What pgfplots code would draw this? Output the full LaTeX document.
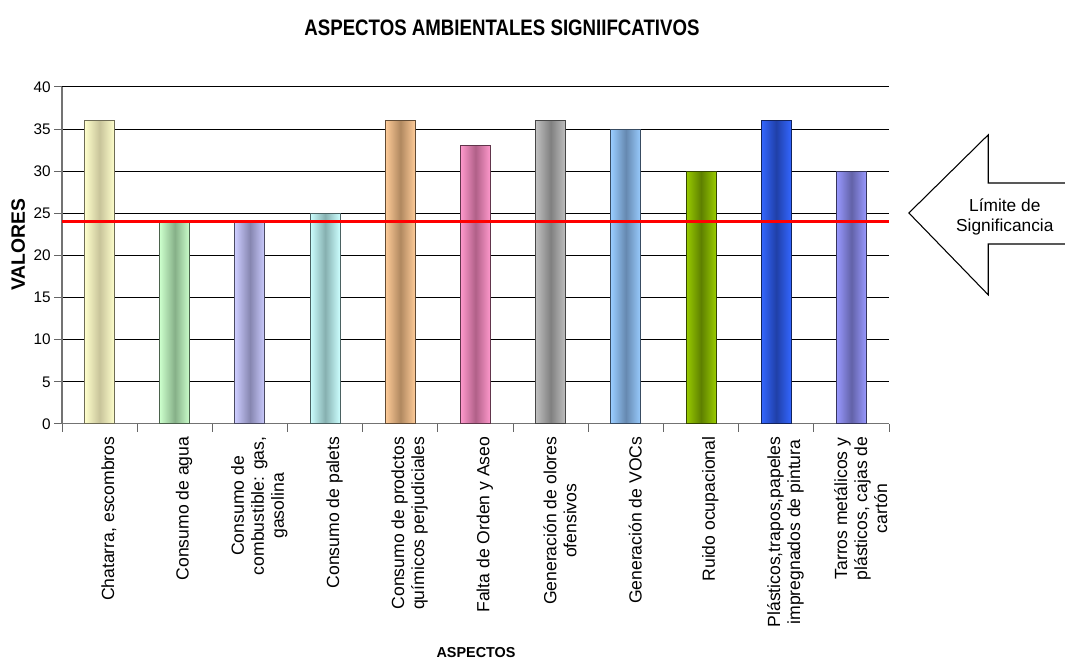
\documentclass[border=0pt]{standalone}
\usepackage{pgfplots}
\pgfplotsset{compat=1.18}
\usepackage{fontspec}
\setmainfont{Liberation Sans}
\definecolor{c1}{HTML}{FFFFCC}\definecolor{d1}{HTML}{C8C49A}
\definecolor{c2}{HTML}{CCFFCC}\definecolor{d2}{HTML}{86B088}
\definecolor{c3}{HTML}{CCCCFF}\definecolor{d3}{HTML}{8686B0}
\definecolor{c4}{HTML}{CCFFFF}\definecolor{d4}{HTML}{86B0B0}
\definecolor{c5}{HTML}{FFCC99}\definecolor{d5}{HTML}{B08860}
\definecolor{c6}{HTML}{FF99CC}\definecolor{d6}{HTML}{B06088}
\definecolor{c7}{HTML}{C0C0C0}\definecolor{d7}{HTML}{808080}
\definecolor{c8}{HTML}{99CCFF}\definecolor{d8}{HTML}{6689B0}
\definecolor{c9}{HTML}{99CC00}\definecolor{d9}{HTML}{5E8000}
\definecolor{c10}{HTML}{3366FF}\definecolor{d10}{HTML}{2040A8}
\definecolor{c11}{HTML}{9999FF}\definecolor{d11}{HTML}{6262A8}
\begin{document}
\begin{tikzpicture}
\begin{axis}[
  width=620.25pt, height=252.75pt, scale only axis,
  xmin=-0.5, xmax=10.5, ymin=0, ymax=40,
  axis x line*=bottom, axis y line*=left,
  axis line style={draw=black!55, line width=0.8pt},
  clip=false,
  ytick={0,5,...,40},
  ymajorgrids, major grid style={black, line width=0.75pt},
  xtick={0,...,10},
  minor xtick={-0.5,0.5,...,10.5},
  major x tick style={draw=none},
  minor x tick style={draw=black!60, line width=0.75pt},
  major y tick style={draw=black!60, line width=0.75pt},
  tick align=outside,
  major tick length=6pt, minor tick length=6pt,
  /pgf/number format/assume math mode=true,
  yticklabel style={font=\fontsize{11.5}{13}\selectfont, xshift=1pt},
  xticklabel style={font=\fontsize{13.2}{15}\selectfont, rotate=90, anchor=east, align=center, yshift=-7pt},
  xticklabels={{Chatarra, escombros},{Consumo de agua},{Consumo de\\combustible: gas,\\gasolina},{Consumo de palets},{Consumo de prodctos\\químicos perjudiciales},{Falta de Orden y Aseo},{Generación de olores\\ofensivos},{Generación de VOCs},{Ruido ocupacional},{Plásticos,trapos,papeles\\impregnados de pintura},{Tarros metálicos y\\plásticos, cajas de\\cartón}},
]
\pgfplotsset{mybar/.style n args={2}{ybar, bar width=22.5pt, bar shift=0pt, draw=#2!55!black, line width=0.75pt, left color=#1, right color=#1, middle color=#2}}
\addplot[mybar={c1}{d1}] coordinates {(0,36)};
\addplot[mybar={c2}{d2}] coordinates {(1,24)};
\addplot[mybar={c3}{d3}] coordinates {(2,24)};
\addplot[mybar={c4}{d4}] coordinates {(3,25)};
\addplot[mybar={c5}{d5}] coordinates {(4,36)};
\addplot[mybar={c6}{d6}] coordinates {(5,33)};
\addplot[mybar={c7}{d7}] coordinates {(6,36)};
\addplot[mybar={c8}{d8}] coordinates {(7,35)};
\addplot[mybar={c9}{d9}] coordinates {(8,30)};
\addplot[mybar={c10}{d10}] coordinates {(9,36)};
\addplot[mybar={c11}{d11}] coordinates {(10,30)};
\addplot[red, line width=2.25pt] coordinates {(-0.5,24) (10.5,24)};
\draw[black, line width=0.8pt] (rel axis cs:1.2128,0.715) -- (rel axis cs:1.120,0.715) -- (rel axis cs:1.120,0.858) -- (rel axis cs:1.024,0.626) -- (rel axis cs:1.120,0.383) -- (rel axis cs:1.120,0.534) -- (rel axis cs:1.2128,0.534);
\node[align=center, font=\fontsize{13}{15}\selectfont] at (rel axis cs:1.140,0.614) {Límite de\\Significancia};
\node[font=\fontsize{14}{16}\selectfont\bfseries] at (rel axis cs:0.532,1.175) {\scalebox{1}[1.2]{ASPECTOS AMBIENTALES SIGNIIFCATIVOS}};
\node[font=\fontsize{10.8}{13}\selectfont\bfseries] at (rel axis cs:0.5006,-0.677) {ASPECTOS};
\node[rotate=90, font=\fontsize{14.5}{16}\selectfont\bfseries] at (rel axis cs:-0.053,0.531) {VALORES};
\coordinate (bbsw) at (rel axis cs:-0.075,-0.697);
\coordinate (bbne) at (rel axis cs:1.2128,1.258);
\end{axis}
\pgfresetboundingbox
\path[use as bounding box] (bbsw) rectangle (bbne);
\end{tikzpicture}
\end{document}
